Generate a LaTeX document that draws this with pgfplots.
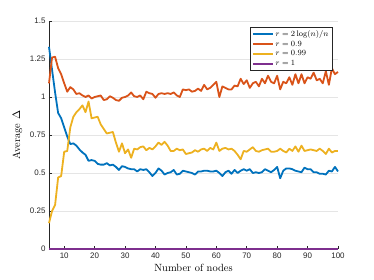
\documentclass[border=0pt]{standalone}
\usepackage{pgfplots}
\pgfplotsset{compat=1.18}
\usepackage{fontspec}
\newfontfamily\ticksans{Liberation Sans}
\definecolor{mblue}{rgb}{0,0.447,0.741}
\definecolor{morange}{rgb}{0.85,0.325,0.098}
\definecolor{myellow}{rgb}{0.929,0.694,0.125}
\definecolor{mpurple}{rgb}{0.494,0.184,0.556}
\definecolor{axgray}{rgb}{0.15,0.15,0.15}
\begin{document}
\begin{tikzpicture}
\begin{axis}[
  scale only axis,
  width=289bp, height=228bp,
  xmin=5, xmax=100, ymin=0, ymax=1.5,
  axis x line=bottom, axis y line=left,
  axis line style={-, axgray, line width=0.5pt},
  tick style={axgray, line width=0.5pt},
  tick align=inside,
  major tick length=3bp,
  xtick={10,20,30,40,50,60,70,80,90,100},
  xticklabels={10,20,30,40,50,60,70,80,90,100},
  ytick={0,0.25,0.5,0.75,1,1.25,1.5},
  yticklabels={0,0.25,0.5,0.75,1,1.25,1.5},
  ticklabel style={font=\ticksans\fontsize{8}{9}\selectfont, text=axgray},
  ymajorgrids,
  grid style={black!10, line width=0.5pt},
  xlabel={Number of nodes},
  ylabel={Average $\Delta$},
  xlabel style={at={(axis description cs:0.5,-0.083)}, anchor=center, font=\fontsize{10.5}{12}\selectfont},
  ylabel style={at={(axis description cs:-0.109,0.5)}, anchor=center, font=\fontsize{10.5}{12}\selectfont},
  clip=false,
  legend style={at={(0.98,0.974)}, anchor=north east, draw=axgray,
    font=\fontsize{8}{9}\selectfont, inner sep=1.5pt, row sep=-1pt, fill=white},
  legend cell align=left,
  legend image code/.code={\draw[mark repeat=2,mark phase=2,#1] (0cm,0cm) -- (0.7cm,0cm);},
]
\addplot[mblue, line width=1.8pt, line join=round] coordinates {
(5,1.33)(6,1.18)(7,1.03)(8,0.895)(9,0.86)(10,0.80)(11,0.74)(12,0.69)(13,0.695)(14,0.68)
(15,0.655)(16,0.635)(17,0.62)(18,0.58)(19,0.585)(20,0.58)(21,0.56)(22,0.555)(23,0.555)(24,0.565)
(25,0.55)(26,0.555)(27,0.54)(28,0.52)(29,0.545)(30,0.54)(31,0.53)(32,0.525)(33,0.525)(34,0.51)
(35,0.525)(36,0.52)(37,0.525)(38,0.505)(39,0.48)(40,0.50)(41,0.53)(42,0.515)(43,0.49)(44,0.50)
(45,0.505)(46,0.52)(47,0.49)(48,0.495)(49,0.515)(50,0.51)(51,0.505)(52,0.50)(53,0.49)(54,0.51)
(55,0.51)(56,0.515)(57,0.515)(58,0.51)(59,0.51)(60,0.515)(61,0.50)(62,0.48)(63,0.505)(64,0.515)
(65,0.495)(66,0.52)(67,0.50)(68,0.515)(69,0.525)(70,0.515)(71,0.525)(72,0.50)(73,0.505)(74,0.50)
(75,0.505)(76,0.525)(77,0.515)(78,0.505)(79,0.52)(80,0.54)(81,0.465)(82,0.515)(83,0.53)(84,0.53)
(85,0.525)(86,0.515)(87,0.51)(88,0.505)(89,0.535)(90,0.525)(91,0.525)(92,0.505)(93,0.505)(94,0.495)
(95,0.495)(96,0.49)(97,0.515)(98,0.51)(99,0.54)(100,0.51)
};
\addlegendentry{$r=2\log(n)/n$}
\addplot[morange, line width=1.8pt, line join=round] coordinates {
(5,1.09)(6,1.26)(7,1.265)(8,1.19)(9,1.15)(10,1.09)(11,1.035)(12,1.065)(13,1.05)(14,1.02)
(15,1.025)(16,1.01)(17,1.0)(18,1.01)(19,0.99)(20,1.0)(21,1.005)(22,1.01)(23,0.98)(24,0.985)
(25,1.005)(26,0.995)(27,0.98)(28,0.975)(29,0.995)(30,1.0)(31,1.01)(32,1.03)(33,1.005)(34,1.0)
(35,1.01)(36,0.985)(37,1.035)(38,1.025)(39,1.02)(40,0.995)(41,1.02)(42,1.025)(43,1.02)(44,1.025)
(45,1.02)(46,1.03)(47,1.01)(48,1.0)(49,1.05)(50,1.045)(51,1.05)(52,1.035)(53,1.04)(54,1.055)
(55,1.04)(56,1.08)(57,1.05)(58,1.06)(59,1.08)(60,1.10)(61,1.00)(62,1.07)(63,1.06)(64,1.05)
(65,1.05)(66,1.075)(67,1.07)(68,1.12)(69,1.085)(70,1.11)(71,1.06)(72,1.09)(73,1.10)(74,1.07)
(75,1.12)(76,1.09)(77,1.14)(78,1.10)(79,1.09)(80,1.14)(81,1.05)(82,1.10)(83,1.09)(84,1.13)
(85,1.08)(86,1.15)(87,1.09)(88,1.15)(89,1.09)(90,1.13)(91,1.12)(92,1.16)(93,1.11)(94,1.12)
(95,1.09)(96,1.17)(97,1.08)(98,1.19)(99,1.15)(100,1.165)
};
\addlegendentry{$r=0.9$}
\addplot[myellow, line width=1.8pt, line join=round] coordinates {
(5,0.17)(6,0.25)(7,0.29)(8,0.47)(9,0.48)(10,0.64)(11,0.645)(12,0.80)(13,0.87)(14,0.90)
(15,0.92)(16,0.945)(17,0.90)(18,0.97)(19,0.86)(20,0.865)(21,0.87)(22,0.82)(23,0.79)(24,0.76)
(25,0.765)(26,0.77)(27,0.70)(28,0.64)(29,0.695)(30,0.63)(31,0.655)(32,0.60)(33,0.66)(34,0.655)
(35,0.67)(36,0.675)(37,0.65)(38,0.665)(39,0.655)(40,0.675)(41,0.70)(42,0.685)(43,0.705)(44,0.68)
(45,0.645)(46,0.645)(47,0.66)(48,0.65)(49,0.655)(50,0.625)(51,0.63)(52,0.635)(53,0.65)(54,0.64)
(55,0.655)(56,0.66)(57,0.645)(58,0.665)(59,0.655)(60,0.70)(61,0.645)(62,0.66)(63,0.665)(64,0.655)
(65,0.66)(66,0.645)(67,0.62)(68,0.59)(69,0.645)(70,0.64)(71,0.655)(72,0.67)(73,0.645)(74,0.64)
(75,0.65)(76,0.655)(77,0.66)(78,0.64)(79,0.64)(80,0.645)(81,0.66)(82,0.645)(83,0.635)(84,0.66)
(85,0.645)(86,0.675)(87,0.64)(88,0.68)(89,0.645)(90,0.65)(91,0.655)(92,0.65)(93,0.645)(94,0.66)
(95,0.645)(96,0.625)(97,0.66)(98,0.635)(99,0.645)(100,0.645)
};
\addlegendentry{$r=0.99$}
\addplot[mpurple, line width=1.8pt] coordinates {(5,0)(100,0)};
\addlegendentry{$r=1$}
\end{axis}
\path[use as bounding box] (-49bp,-31bp) rectangle (325bp,249bp);
\end{tikzpicture}
\end{document}
